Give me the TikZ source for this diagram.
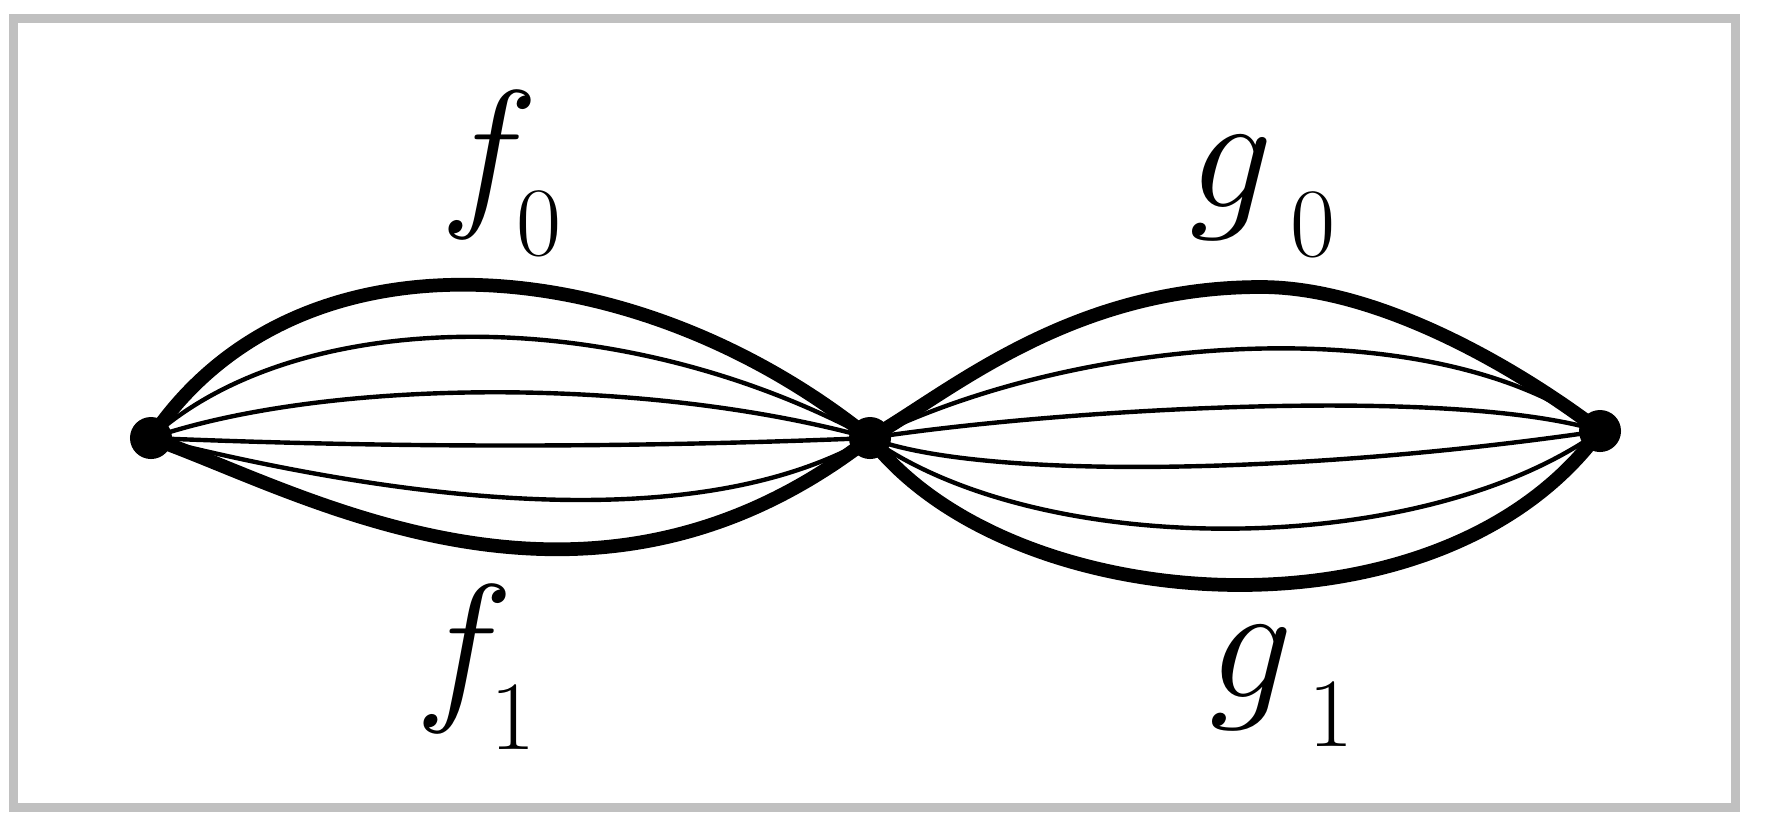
\RequirePackage{fix-cm}
\documentclass[tikz,border=0pt]{standalone}
\definecolor{bordergray}{RGB}{192,192,192}
\newcommand{\mainsz}{\fontsize{47.2pt}{52pt}\selectfont}
\newcommand{\subsz}{\fontsize{27.9pt}{30pt}\selectfont}
\newcommand{\lab}[3]{$#1$\kern#3em\raisebox{-0.3em}{\subsz #2}}
\begin{document}
\begin{tikzpicture}[x=0.01cm,y=-0.01cm,
  frame/.style={draw=bordergray,line width=2.56pt},
  thick curve/.style={line width=3.9pt,black},
  thin curve/.style={line width=1.25pt,black},
  dot/.style={circle,fill=black,inner sep=0pt,minimum size=0.42cm},
  lbl/.style={anchor=base west,inner sep=0pt,font=\mainsz}]
\useasboundingbox (0,0) rectangle (1766,832);
\draw[frame] (13.5,18.3) rectangle (1735,807.5);
\coordinate (L) at (151,438);
\coordinate (M) at (870,438);
\coordinate (R) at (1600,431);
% left bundle
\draw[thick curve] (L) .. controls (300,216) and (640,252) .. (M);
\draw[thin curve] (L) .. controls (300,303) and (620,303) .. (M);
\draw[thin curve] (L) .. controls (330,377) and (650,377) .. (M);
\draw[thin curve] (L) .. controls (390,448) and (630,448) .. (M);
\draw[thin curve] (L) .. controls (350,488) and (680,548) .. (M);
\draw[thick curve] (L) .. controls (300,490) and (585,660) .. (M);
% right bundle
\draw[thick curve] (M) .. controls (950,392) and (1070,287) .. (1261,287)
   .. controls (1380,287) and (1520,370) .. (R);
\draw[thin curve] (M) .. controls (1090,330) and (1440,310) .. (R);
\draw[thin curve] (M) .. controls (1050,410) and (1450,385) .. (R);
\draw[thin curve] (M) .. controls (980,480) and (1300,475) .. (R);
\draw[thin curve] (M) .. controls (1040,560) and (1420,560) .. (R);
\draw[thick curve] (M) .. controls (1010,620) and (1440,650) .. (R);
% dots
\node[dot] (dL) at (L) {};
\node[dot] (dM) at (M) {};
\node[dot] (dR) at (R) {};
% labels
\node[lbl] (f0) at (440,206) {\lab{f}{0}{-0.13}};
\node[lbl] (f1) at (415,700) {\lab{f}{1}{-0.14}};
\node[lbl] (g0) at (1189,207) {\lab{g}{0}{0.1}};
\node[lbl] (g1) at (1209,697) {\lab{g}{1}{0.09}};
\end{tikzpicture}
\end{document}
